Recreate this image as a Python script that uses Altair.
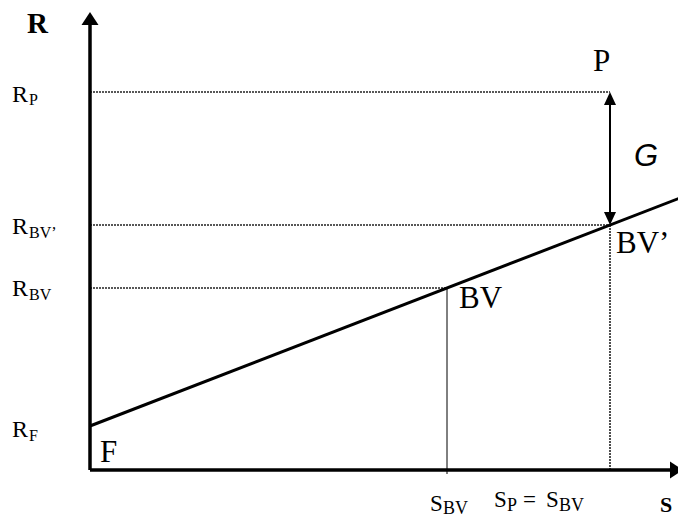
import altair as alt
import pandas as pd

# ---- values of the diagram (data units: S horizontal, R vertical) ----
S_BV = 357          # S of BV
S_P = 520           # S_P = S_BV'
R_F = 44            # risk-free return (intercept)
SLOPE = 0.3865      # slope of the F-BV line
R_BV = 182
R_BVP = 245
R_P = 378
S_END = 596         # end of the F line
S_AX = 593          # tip of the S axis arrow
R_AX = 458          # tip of the R axis arrow

W, H = 670, 510
X_DOM = [-82, 588]
Y_DOM = [-48, 462]

xsc = alt.Scale(domain=X_DOM, nice=False, zero=False)
ysc = alt.Scale(domain=Y_DOM, nice=False, zero=False)


def seg_layer(rows, **mark):
    df = pd.DataFrame(rows, columns=["s", "r", "s2", "r2"])
    return alt.Chart(df).mark_rule(**mark).encode(
        x=alt.X("s:Q", scale=xsc, axis=None),
        y=alt.Y("r:Q", scale=ysc, axis=None),
        x2="s2:Q",
        y2="r2:Q",
    )


axes = seg_layer([(0, 0, 0, R_AX - 10), (0, 0, S_AX - 10, 0)],
                 color="black", strokeWidth=3.5)
dotted = seg_layer([(0, R_P, S_P, R_P), (0, R_BVP, S_P, R_BVP),
                    (0, R_BV, S_BV, R_BV), (S_P, 0, S_P, R_BVP)],
                   color="#222222", strokeWidth=1.6, strokeDash=[2, 1])
thin = seg_layer([(S_BV, -4, S_BV, R_BV)], color="black", strokeWidth=1)
shaft = seg_layer([(S_P, R_BVP + 4, S_P, R_P - 4)], color="black", strokeWidth=2)
fline = seg_layer([(0, R_F, S_END, R_F + SLOPE * S_END)], color="black", strokeWidth=3)

UP = "M0,0L1,1.53L-1,1.53Z"
RIGHT = "M0,0L-1.53,1L-1.53,-1Z"
UP_S = "M0,0L1,2.17L-1,2.17Z"
DOWN_S = "M0,0L1,-2.17L-1,-2.17Z"
heads = pd.DataFrame({
    "s": [0, S_AX, S_P, S_P],
    "r": [R_AX, 0, R_P, R_BVP],
    "shape": [UP, RIGHT, UP_S, DOWN_S],
    "size": [289, 289, 144, 144],
})
arrows = alt.Chart(heads).mark_point(filled=True, color="black", opacity=1, strokeWidth=0).encode(
    x=alt.X("s:Q", scale=xsc, axis=None),
    y=alt.Y("r:Q", scale=ysc, axis=None),
    shape=alt.Shape("shape:N", scale=None),
    size=alt.Size("size:Q", scale=None),
)

# ---- labels: (text, s, r, font size) ----
serif_labels = [
    ("R", -78, 368, 24), ("P", -61, 365, 16),
    ("R", -78, 236, 24), ("BV\u2019", -61, 232, 16),
    ("R", -78, 174, 24), ("BV", -61, 170, 16),
    ("R", -78, 33, 24), ("F", -61, 29, 16),
    ("F", 10, 8, 31),
    ("BV", 369, 162, 31),
    ("BV\u2019", 526, 217, 31),
    ("P", 503, 399, 31),
    ("S", 340, -41, 23), ("BV", 353, -44, 18),
    ("S", 404, -37, 23), ("P", 417, -41, 18),
    ("=", 433, -37, 23),
    ("S", 456, -37, 23), ("BV", 469, -41, 18),
]
bold_labels = [("R", -63, 437, 29), ("S", 570, -42, 22)]
sans_labels = [("G", 544, 304, 31)]


def text_layer(rows, **mark):
    df = pd.DataFrame(rows, columns=["text", "s", "r", "size"])
    return alt.Chart(df).mark_text(align="left", baseline="alphabetic", color="black", **mark).encode(
        x=alt.X("s:Q", scale=xsc, axis=None),
        y=alt.Y("r:Q", scale=ysc, axis=None),
        text="text:N",
        size=alt.Size("size:Q", scale=None),
    )


t1 = text_layer(serif_labels, font="Liberation Serif")
t2 = text_layer(bold_labels, font="Liberation Serif", fontWeight="bold")
t3 = text_layer(sans_labels, font="Liberation Sans", fontStyle="italic")

chart = alt.layer(dotted, thin, shaft, fline, axes, arrows, t1, t2, t3).properties(
    width=W, height=H, padding=0, autosize=alt.AutoSizeParams(type="none"),
    background="white",
).configure_view(stroke=None)

chart.save("out.html", embed_options={"renderer": "svg", "actions": False})
